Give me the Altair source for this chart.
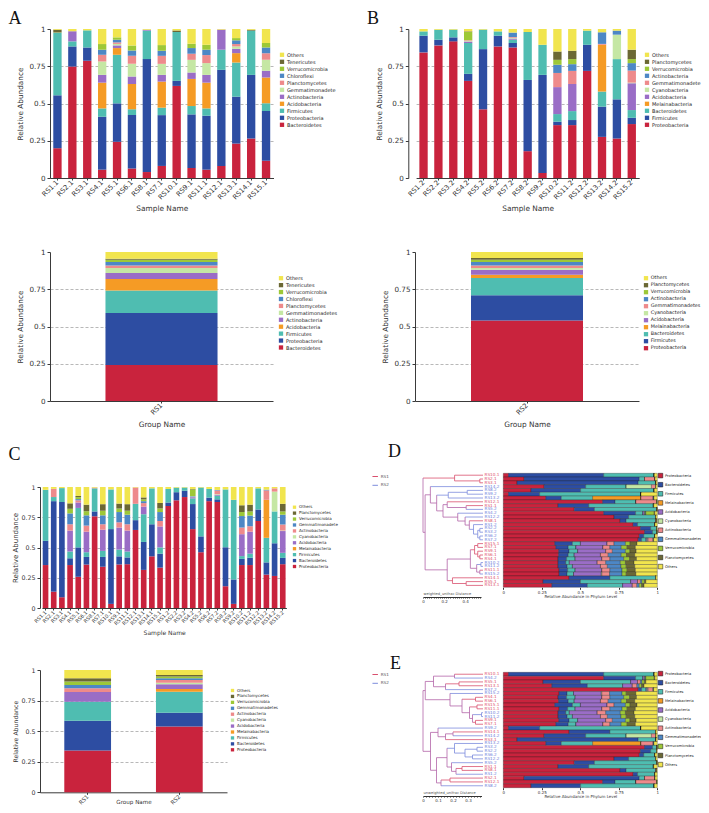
import altair as alt
import pandas as pd

W, H = 693, 797
MARGIN = 8
FONT = "DejaVu Sans"
SERIF = "Liberation Serif"
AX = "#3a3a3a"


def P(v):
    return v - MARGIN


# colours by stack position (bottom -> top)
PALETTE = ["#C9233D", "#2D4DA2", "#4FBDB1", "#F59B25", "#9A6DC6", "#C5E7A4",
           "#EE8A8B", "#4D87C5", "#9DC837", "#6B6834", "#F1E54E"]
TREE_RED, TREE_BLUE, TREE_MIX = "#D9506E", "#7C8CDD", "#B264A8"

# ---------------- Panel A (RS?.1 samples) ----------------
A_SAMPLES = ["RS1.1", "RS2.1", "RS3.1", "RS4.1", "RS5.1", "RS6.1", "RS8.1", "RS7.1",
             "RS10.1", "RS9.1", "RS11.1", "RS12.1", "RS13.1", "RS14.1", "RS15.1"]
A_PHYLA = ["Bacteroidetes", "Proteobacteria", "Firmicutes", "Acidobacteria", "Actinobacteria",
           "Gemmatimonadete", "Planctomycetes", "Chloroflexi", "Verrucomicrobia", "Tenericutes", "Others"]
a_bacteroidetes = [.200, .748, .787, .056, .243, .063, .040, .081, .618, .067, .056, .081, .231, .265, .115]
a_proteobacteria = [.355, .135, .089, .355, .258, .359, .758, .341, .034, .360, .362, .645, .315, .427, .334]
a_firmicutes = [.420, .034, .115, .056, .326, .039, .191, .050, .328, .056, .049, .135, .229, .297, .052]
a_acidobacteria = [0, 0, 0, .173, .045, .170, 0, .175, 0, .182, .173, 0, .063, 0, .173]
a_actinobacteria = [0, .068, 0, .052, .018, .050, .006, .045, 0, .043, .052, .135, .029, 0, .045]
a_gemmatimonadetes = [0, 0, 0, .090, .010, .085, 0, .074, 0, .085, .079, 0, .016, 0, .074]
a_planctomycetes = [0, 0, 0, .045, .010, .054, 0, .054, 0, .041, .054, 0, .016, 0, .045]
a_chloroflexi = [0, 0, 0, .034, .018, .036, 0, .034, 0, .038, .036, 0, .025, 0, .038]
a_verrucomicrobia = [.002, 0, 0, .038, .016, .034, 0, .038, 0, .029, .033, 0, .015, 0, .030]
a_tenericutes = [.018, 0, 0, 0, 0, 0, 0, 0, .010, 0, 0, 0, 0, .006, 0]
a_others = [.005, .015, .009, .101, .056, .110, .005, .108, .010, .099, .106, .004, .061, .005, .094]
A_SERIES = [a_bacteroidetes, a_proteobacteria, a_firmicutes, a_acidobacteria, a_actinobacteria,
            a_gemmatimonadetes, a_planctomycetes, a_chloroflexi, a_verrucomicrobia, a_tenericutes, a_others]

A_GROUPS = ["RS1"]
A_GROUP_PHYLA = ["Bacteroidetes", "Proteobacteria", "Firmicutes", "Acidobacteria", "Actinobacteria",
                 "Gemmatimonadetes", "Planctomycetes", "Chloroflexi", "Verrucomicrobia", "Tenericutes", "Others"]
a_group_rs1 = [.242, .348, .152, .076, .041, .033, .018, .023, .015, .007, .045]

# ---------------- Panel B (RS?.2 samples) ----------------
B_SAMPLES = ["RS1.2", "RS2.2", "RS3.2", "RS4.2", "RS5.2", "RS6.2", "RS7.2", "RS8.2",
             "RS9.2", "RS10.2", "RS11.2", "RS12.2", "RS13.2", "RS14.2", "RS15.2"]
B_PHYLA = ["Proteobacteria", "Firmicutes", "Bacteroidetes", "Melainabacteria", "Acidobacteria",
           "Cyanobacteria", "Gemmatimonadete", "Actinobacteria", "Verrucomicrobia", "Planctomycetes", "Others"]
b_proteobacteria = [.843, .890, .917, .652, .461, .883, .876, .180, .034, .355, .355, .719, .276, .265, .362]
b_firmicutes = [.112, .038, .027, .047, .404, .072, .030, .478, .658, .023, .034, .175, .203, .263, .042]
b_bacteroidetes = [.029, .067, .052, .207, .131, .029, .022, .322, .202, .051, .060, .095, .101, .270, .052]
b_melainabacteria = [0, 0, 0, 0, 0, 0, 0, 0, 0, 0, 0, 0, .314, 0, 0]
b_acidobacteria = [0, 0, 0, .010, 0, 0, .008, 0, 0, .181, .182, 0, 0, 0, .180]
b_cyanobacteria = [0, 0, 0, .005, 0, 0, .005, 0, 0, 0, 0, 0, 0, .164, .004]
b_gemmatimonadetes = [0, 0, 0, .004, 0, 0, .005, 0, 0, .095, .088, 0, .006, 0, .081]
b_actinobacteria = [0, 0, 0, 0, 0, 0, .030, 0, 0, .055, .045, 0, .078, .027, .050]
b_verrucomicrobia = [0, 0, 0, .055, 0, 0, 0, 0, 0, .033, .034, 0, 0, 0, .027]
b_planctomycetes = [0, 0, 0, .004, 0, 0, 0, 0, 0, .056, .056, 0, 0, 0, .063]
b_others = [.016, .005, .004, .016, .004, .016, .024, .020, .106, .151, .146, .011, .022, .011, .139]
B_SERIES = [b_proteobacteria, b_firmicutes, b_bacteroidetes, b_melainabacteria, b_acidobacteria,
            b_cyanobacteria, b_gemmatimonadetes, b_actinobacteria, b_verrucomicrobia, b_planctomycetes, b_others]

B_GROUPS = ["RS2"]
B_GROUP_PHYLA = ["Proteobacteria", "Firmicutes", "Bacteroidetes", "Melainabacteria", "Acidobacteria",
                 "Cyanobacteria", "Gemmatimonadetes", "Actinobacteria", "Verrucomicrobia", "Planctomycetes", "Others"]
b_group_rs2 = [.540, .169, .116, .023, .033, .011, .018, .023, .015, .012, .040]

# ---------------- Panel C (all 30 samples) ----------------
C_SAMPLES = A_SAMPLES + B_SAMPLES
C_PHYLA = ["Proteobacteria", "Bacteroidetes", "Firmicutes", "Melainabacteria", "Acidobacteria",
           "Cyanobacteria", "Actinobacteria", "Gemmatimonadete", "Verrucomicrobia", "Planctomycetes", "Others"]
c_proteobacteria = a_proteobacteria + b_proteobacteria
c_bacteroidetes = a_bacteroidetes + b_bacteroidetes
c_firmicutes = a_firmicutes + b_firmicutes
c_melainabacteria = [0.0] * 15 + b_melainabacteria
c_acidobacteria = a_acidobacteria + b_acidobacteria
c_cyanobacteria = [0.0] * 15 + b_cyanobacteria
c_actinobacteria = a_actinobacteria + b_actinobacteria
c_gemmatimonadetes = a_gemmatimonadetes + b_gemmatimonadetes
c_verrucomicrobia = a_verrucomicrobia + b_verrucomicrobia
c_planctomycetes = a_planctomycetes + b_planctomycetes
c_others = [.023, .015, .009, .135, .074, .146, .005, .142, .020, .137, .142, .004, .086, .011, .132] + b_others
C_SERIES = [c_proteobacteria, c_bacteroidetes, c_firmicutes, c_melainabacteria, c_acidobacteria,
            c_cyanobacteria, c_actinobacteria, c_gemmatimonadetes, c_verrucomicrobia, c_planctomycetes, c_others]

C_GROUPS = ["RS1", "RS2"]
C_GROUP_PHYLA = ["Proteobacteria", "Bacteroidetes", "Firmicutes", "Melainabacteria", "Acidobacteria",
                 "Cyanobacteria", "Actinobacteria", "Gemmatimonadetes", "Verrucomicrobia", "Planctomycetes", "Others"]
c_group_rs1 = [.341, .245, .155, 0, .079, 0, .030, .027, .028, .027, .068]
c_group_rs2 = [.537, .114, .172, .022, .038, .013, .022, .014, .014, .013, .041]

# ---------------- Panels D / E (clustering) ----------------
TREE_PHYLA = C_GROUP_PHYLA
D_ORDER = ["RS10.1", "RS2.1", "RS3.1", "RS14.2", "RS8.2", "RS9.2", "RS13.2", "RS12.1", "RS1.1", "RS5.2",
           "RS4.2", "RS12.2", "RS8.1", "RS1.2", "RS2.2", "RS3.2", "RS6.2", "RS7.2", "RS15.1", "RS7.1",
           "RS9.1", "RS6.1", "RS4.1", "RS10.2", "RS11.2", "RS11.1", "RS15.2", "RS14.1", "RS5.1", "RS13.1"]
# (left, right, merge distance)
D_TREE = (
    ("RS10.1", ("RS2.1", "RS3.1", 0.03), 0.27),
    (("RS14.2",
      ((("RS8.2", "RS9.2", 0.15), "RS13.2", 0.33),
       (("RS12.1", ("RS1.1", "RS5.2", 0.16), 0.34),
        ("RS4.2", ("RS12.2", ("RS8.1", ("RS1.2", (("RS2.2", "RS3.2", 0.03), ("RS6.2", "RS7.2", 0.03), 0.05),
                                         0.09), 0.13), 0.17), 0.24),
        0.38),
       0.44),
      0.50),
     (((("RS15.1", "RS7.1", 0.05), ("RS9.1", ("RS6.1", "RS4.1", 0.03), 0.05), 0.08),
       (("RS10.2", "RS11.2", 0.02), ("RS11.1", "RS15.2", 0.03), 0.06), 0.12),
      ("RS14.1", ("RS5.1", "RS13.1", 0.16), 0.29),
      0.34),
     0.55),
    0.57)

E_ORDER = ["RS10.1", "RS4.2", "RS5.1", "RS13.1", "RS7.2", "RS15.2", "RS4.1", "RS6.1", "RS15.1", "RS11.1",
           "RS10.2", "RS11.2", "RS9.1", "RS7.1", "RS9.2", "RS14.1", "RS14.2", "RS3.1", "RS13.2", "RS3.2",
           "RS2.2", "RS6.2", "RS12.2", "RS5.2", "RS1.1", "RS8.1", "RS1.2", "RS2.1", "RS12.1", "RS8.2"]
E_TREE = (
    ((("RS10.1", "RS4.2", 0.19), (("RS5.1", "RS13.1", 0.16), "RS7.2", 0.25), 0.33),
     ("RS15.2", (("RS4.1", "RS6.1", 0.05),
                 (("RS15.1", "RS11.1", 0.04), (("RS10.2", "RS11.2", 0.01), ("RS9.1", "RS7.1", 0.05), 0.07), 0.09),
                 0.14), 0.22),
     0.385),
    (("RS9.2", (("RS14.1", "RS14.2", 0.20), "RS3.1", 0.25), 0.30),
     ((("RS13.2", (("RS3.2", "RS2.2", 0.04), ("RS6.2", "RS12.2", 0.07), 0.12), 0.19),
       ("RS5.2", (("RS1.1", "RS8.1", 0.14), "RS1.2", 0.18), 0.21), 0.24),
      (("RS2.1", "RS12.1", 0.22), "RS8.2", 0.28), 0.31),
     0.35),
    0.40)

GRID_OPACITY = {"condition": {"test": "datum.value == 0 || datum.value == 1", "value": 0}, "value": 1}


def stacked_table(samples, phyla, series):
    rows = []
    for k, (ph, vals) in enumerate(zip(phyla, series)):
        for s, v in zip(samples, vals):
            rows.append({"sample": s, "phylum": ph, "value": v, "k": k})
    return pd.DataFrame(rows)


def square_legend(x, y, fs, ss, rp, offset=2, **kw):
    return alt.Legend(orient="none", legendX=P(x), legendY=P(y), title=None, labelFont=FONT,
                      labelFontSize=fs, labelColor="#222", labelOffset=offset, symbolType="square",
                      symbolSize=ss, rowPadding=rp, padding=0, **kw)


def vertical_panel(samples, phyla, series, x0, x1, pin, pout, y0, y1, axis_x, leg,
                   lab_fs, ylab_fs, xt_fs, yt_fs, xtitle, xt_pad, yt_pad, **xaxis_kw):
    df = stacked_table(samples, phyla, series)
    return alt.Chart(df).mark_bar().encode(
        x=alt.X("sample:N",
                scale=alt.Scale(domain=samples, range=[P(x0), P(x1)], paddingInner=pin, paddingOuter=pout),
                axis=alt.Axis(orient="bottom", offset=P(y0) - H, title=xtitle, labelAngle=-45,
                              labelAlign="right", labelBaseline="middle", labelFontSize=lab_fs,
                              titleFontSize=xt_fs, tickSize=2, labelPadding=1, titlePadding=xt_pad,
                              grid=False, domainColor=AX, tickColor=AX, labelColor="#333", titleColor="#333",
                              **xaxis_kw)),
        y=alt.Y("value:Q", stack="zero",
                scale=alt.Scale(domain=[0, 1], range=[P(y0), P(y1)], nice=False),
                axis=alt.Axis(orient="left", offset=-P(axis_x), values=[0, 0.25, 0.5, 0.75, 1], format=".2~f",
                              title="Relative Abundance", labelFontSize=ylab_fs, titleFontSize=yt_fs,
                              tickSize=3, labelPadding=2, titlePadding=yt_pad, labelOverlap=False,
                              grid=True, gridDash=[3, 2], gridColor="#9a9a9a", gridWidth=0.7,
                              gridOpacity=GRID_OPACITY, domainColor=AX, tickColor=AX,
                              labelColor="#333", titleColor="#333")),
        color=alt.Color("phylum:N", scale=alt.Scale(domain=phyla[::-1], range=PALETTE[::-1]), legend=leg),
        order=alt.Order("k:Q", sort="ascending"),
    )


def tree_table(tree, order):
    segs = []

    def walk(node):
        if isinstance(node, str):
            return order.index(node) + 0.5, 0.0, ("RS1" if node.endswith(".1") else "RS2")
        left, right, h = node
        yl, hl, gl = walk(left)
        yr, hr, gr = walk(right)
        g = gl if gl == gr else "mix"
        segs.append({"d1": hl, "d2": h, "r1": yl, "r2": yl, "grp": gl})
        segs.append({"d1": hr, "d2": h, "r1": yr, "r2": yr, "grp": gr})
        segs.append({"d1": h, "d2": h, "r1": yl, "r2": yr, "grp": g})
        return (yl + yr) / 2.0, h, g

    walk(tree)
    return pd.DataFrame(segs)


def tree_panel(tree, order, dmax, top, bot, leg_y, rs_leg_y, ruler_max, ruler_end, ruler_y,
               ruler_title, label_mult):
    rows = []
    for s in order:
        i = C_SAMPLES.index(s)
        for k, ph in enumerate(TREE_PHYLA):
            rows.append({"sample": s, "phylum": ph, "value": C_SERIES[k][i], "k": k})
    bars = alt.Chart(pd.DataFrame(rows)).mark_bar(stroke="#1e1e1e", strokeWidth=0.3).encode(
        x=alt.X("value:Q", stack="zero",
                scale=alt.Scale(domain=[0, 1], range=[P(503.3), P(657.3)], nice=False),
                axis=alt.Axis(orient="bottom", offset=P(bot) - H, values=[0, 0.25, 0.5, 0.75, 1], format=".2~f",
                              title="Relative Abundance in Phylum Level", labelFontSize=4, titleFontSize=4,
                              tickSize=2, labelPadding=1, titlePadding=0, domain=False, grid=False,
                              labelFlush=False, labelOverlap=False, tickColor=AX, labelColor="#333",
                              titleColor="#333")),
        y=alt.Y("sample:N", scale=alt.Scale(domain=order, range=[P(top), P(bot)], paddingInner=0, paddingOuter=0),
                axis=None),
        color=alt.Color("phylum:N", scale=alt.Scale(domain=TREE_PHYLA, range=PALETTE),
                        legend=square_legend(657.5, leg_y, 3.6, 21, 1.1, offset=1.5, symbolStrokeColor="#111",
                                             symbolStrokeWidth=0.5)),
        order=alt.Order("k:Q", sort="ascending"),
    )
    xs = alt.Scale(domain=[0, dmax], range=[P(483), P(423)], nice=False, zero=False)
    ys = alt.Scale(domain=[0, len(order)], range=[P(top), P(bot)], nice=False, zero=False)
    lines = alt.Chart(tree_table(tree, order)).mark_rule(strokeWidth=0.8).encode(
        x=alt.X("d1:Q", scale=xs, axis=None), x2="d2:Q",
        y=alt.Y("r1:Q", scale=ys, axis=None), y2="r2:Q",
        color=alt.Color("grp:N", scale=alt.Scale(domain=["RS1", "RS2", "mix"],
                                                 range=[TREE_RED, TREE_BLUE, TREE_MIX]),
                        legend=alt.Legend(values=["RS1", "RS2"], orient="none", legendX=P(371.7),
                                          legendY=P(rs_leg_y), title=None, symbolType="stroke",
                                          symbolSize=30, symbolStrokeWidth=1, labelFont=FONT,
                                          labelFontSize=4.2, labelColor="#555", rowPadding=2.8,
                                          labelOffset=2, padding=0)),
    )
    lab_df = pd.DataFrame({"sample": order,
                           "r": [i + 0.5 for i in range(len(order))],
                           "d": [0.0] * len(order),
                           "grp": ["RS1" if s.endswith(".1") else "RS2" for s in order]})
    labels = alt.Chart(lab_df).mark_text(align="left", baseline="middle", dx=1.5, fontSize=4.2, font=FONT).encode(
        x=alt.X("d:Q", scale=xs, axis=None),
        y=alt.Y("r:Q", scale=ys, axis=None),
        text="sample:N",
        color=alt.Color("grp:N", scale=alt.Scale(domain=["RS1", "RS2"], range=["#E0506A", "#6E80DB"]),
                        legend=None),
    )
    ticks = [round(i * 0.02, 2) for i in range(int(round(ruler_max / 0.02)) + 1)]
    ruler = alt.Chart(pd.DataFrame({"v": [0.0, ruler_max]})).mark_point(opacity=0).encode(
        x=alt.X("v:Q", scale=alt.Scale(domain=[0, ruler_max], range=[P(423), P(ruler_end)], nice=False, zero=False),
                axis=alt.Axis(orient="bottom", offset=P(ruler_y) - H, values=ticks, format=".1~f",
                              labelExpr=f"abs(datum.value * {label_mult} - round(datum.value * {label_mult})) < 0.001 ? datum.label : ''",
                              labelFontSize=4, labelPadding=0.5, tickSize=1.5, tickWidth=0.5,
                              labelFlush=False, labelOverlap=False, grid=False, domainColor="#333",
                              tickColor="#333", labelColor="#333", title=ruler_title, titleFontSize=3.6,
                              titleX=P(423), titleY=-2, titleAlign="left", titleBaseline="bottom",
                              titleColor="#555")),
    )
    return [bars, lines, labels, ruler]


def letter(t, x, y):
    return alt.Chart(pd.DataFrame({"t": [t]})).mark_text(
        font=SERIF, fontSize=18, align="left", baseline="alphabetic", color="#111"
    ).encode(text="t:N", x=alt.value(P(x)), y=alt.value(P(y)))


a_s = vertical_panel(A_SAMPLES, A_PHYLA, A_SERIES, 50, 273.5, 0.44, 0.22, 178, 29, 50,
                     square_legend(279, 51.8, 5, 18.5, 1.0), 6.8, 7.2, 7.4, 7.3, "Sample Name", 4, 4)
a_g = vertical_panel(A_GROUPS, A_GROUP_PHYLA, [[v] for v in a_group_rs1], 50, 273, 0.0, 0.495, 401, 252, 50,
                     square_legend(278, 275.2, 5, 18.5, 0.93), 6.8, 7.2, 7.4, 7.3, "Group Name", 4, 4)
b_s = vertical_panel(B_SAMPLES, B_PHYLA, B_SERIES, 416.1, 639.2, 0.44, 0.22, 178, 29, 408.3,
                     square_legend(644, 51.8, 5, 18.5, 1.0), 6.8, 7.2, 7.4, 7.3, "Sample Name", 4, 4)
b_g = vertical_panel(B_GROUPS, B_GROUP_PHYLA, [[v] for v in b_group_rs2], 415, 639, 0.0, 0.5, 401, 252, 415,
                     square_legend(643, 275.2, 4.85, 18.5, 1.0, offset=1.8), 6.8, 7.2, 7.4, 7.3, "Group Name", 4, 4)
c_s = vertical_panel(C_SAMPLES, C_PHYLA, C_SERIES, 41.9, 286.4, 0.31, 0.1, 608, 487, 40,
                     square_legend(292, 504.7, 4, 11, 0.93), 5, 6.3, 6, 7, "Sample Name", 4, 2)
c_g = vertical_panel(C_GROUPS, C_GROUP_PHYLA, [[u, v] for u, v in zip(c_group_rs1, c_group_rs2)],
                     40, 227, 0.49, 0.265, 792.3, 670, 40,
                     square_legend(230, 688, 4, 11, 0.93), 5.6, 6.3, 5.6, 6.2, "Group Name", 3, 2,
                     titleY=12.3, titleBaseline="bottom")

d_layers = tree_panel(D_TREE, D_ORDER, 0.57, 473.3, 587.3, 472.6, 473, 0.55, 481, 597,
                      "weighted_unifrac Distance", 5)
e_layers = tree_panel(E_TREE, E_ORDER, 0.40, 672.3, 787.7, 670.6, 671, 0.39, 481.5, 796,
                      "unweighted_unifrac Distance", 10)

letters = [letter("A", 8.5, 24), letter("B", 367, 24), letter("C", 8.5, 460),
           letter("D", 388, 457), letter("E", 390, 669)]

chart = alt.layer(
    a_s, a_g, b_s, b_g, c_s, c_g, *d_layers, *e_layers, *letters
).resolve_scale(
    x="independent", y="independent", color="independent"
).properties(
    width=W, height=H, padding=0, autosize=alt.AutoSizeParams(type="none")
).configure_view(
    strokeWidth=0
).configure_axis(
    labelFont=FONT, titleFont=FONT, titleFontWeight="normal"
).configure_legend(
    labelFont=FONT
)

chart.save("out.html", embed_options={"renderer": "svg", "actions": False})
